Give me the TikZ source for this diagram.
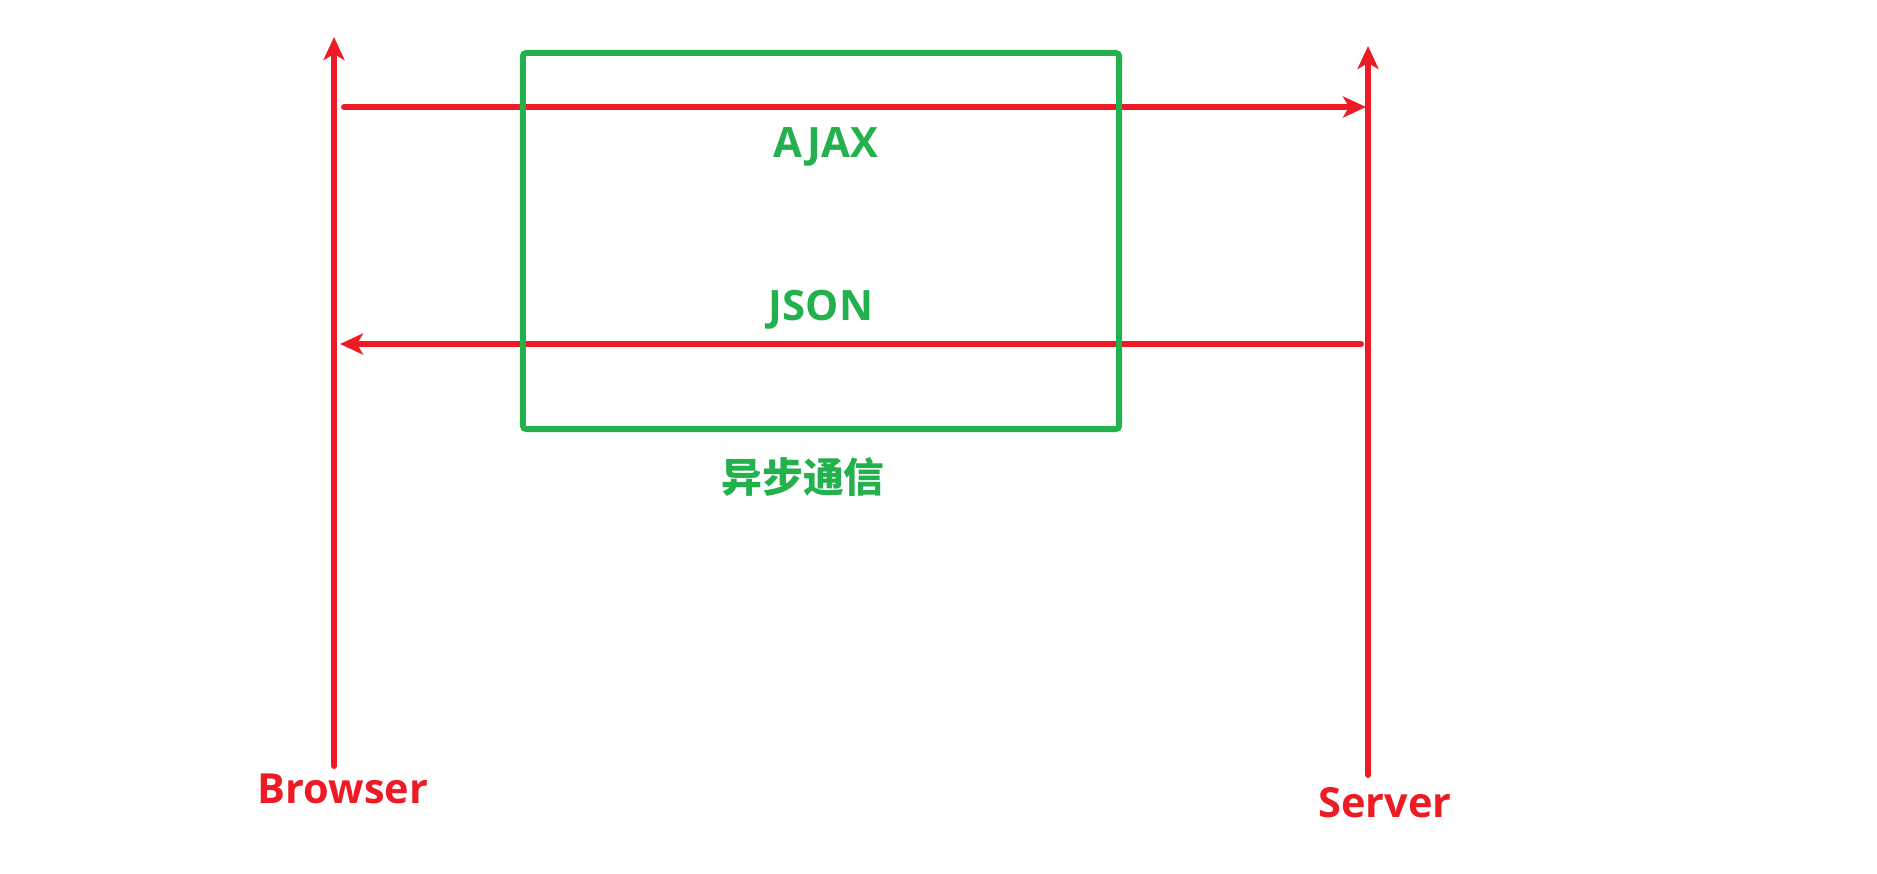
\documentclass[tikz,border=0pt]{standalone}
\usepackage{fontspec}
\setmainfont{Open Sans}
\newfontfamily\cjk{Noto Sans CJK SC}
\usetikzlibrary{arrows.meta}
\definecolor{paintred}{HTML}{ED1C24}
\definecolor{paintgreen}{HTML}{22B14C}
\tikzset{
  wire/.style={draw=paintred, line width=1.7pt, line cap=round,
    -{Stealth[length=0.23cm, width=0.21cm, inset=0.06cm]}},
  redlabel/.style={text=paintred, anchor=base, font=\fontsize{11.8}{14}\selectfont\bfseries},
  greenlabel/.style={text=paintgreen, anchor=base, font=\fontsize{11.9}{14}\selectfont\bfseries}
}
\begin{document}
\begin{tikzpicture}[x=0.01cm, y=-0.01cm]
      \useasboundingbox (0,0) rectangle (1877,873);

      % Lifelines
      \coordinate (browserbot) at (334,766);
      \coordinate (browsertop) at (334,37);
      \coordinate (serverbot) at (1368,775);
      \coordinate (servertop) at (1368,46);
      \draw[wire] (browserbot) -- (browsertop);
      \draw[wire] (serverbot) -- (servertop);

      % Messages
      \coordinate (ajaxfrom) at (344,107);
      \coordinate (ajaxto) at (1366,107);
      \coordinate (jsonfrom) at (1361,344);
      \coordinate (jsonto) at (340,344);
      \draw[wire] (ajaxfrom) -- (ajaxto);
      \draw[wire] (jsonfrom) -- (jsonto);

      % Asynchronous box
      \node[draw=paintgreen, line width=1.7pt, rounded corners=1pt, minimum width=5.96cm, minimum height=3.76cm] (async) at (821,241) {};

      % Labels
      \node[greenlabel] (ajax) at (826,157) {AJAX};
      \node[greenlabel] (json) at (821,320) {JSON};
      \node[greenlabel, font=\fontsize{11.6}{14}\selectfont\cjk\bfseries] (asynclabel) at (803,492) {异步通信};
      \node[redlabel] (browser) at (343,803) {Browser};
      \node[redlabel] (server) at (1385,817) {Server};

    \end{tikzpicture}
\end{document}
